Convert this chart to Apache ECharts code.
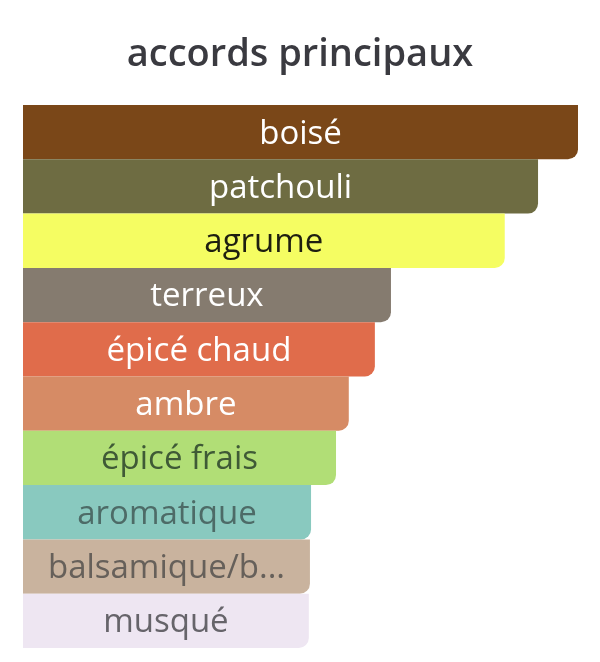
<!DOCTYPE html>
<html>
<head>
<meta charset="utf-8">
<script src="https://cdn.jsdelivr.net/npm/echarts@6/dist/echarts.min.js"></script>
<style>html,body{margin:0;padding:0;background:#fff}#c{width:600px;height:662px}</style>
</head>
<body>
<div id="c"></div>
<script>
const titleText = "accords principaux";
const categories = ["boisé","patchouli","agrume","terreux","épicé chaud","ambre","épicé frais","aromatique","balsamique/b...","musqué"];
const values = [100, 92.8, 86.8, 66.3, 63.4, 58.7, 56.4, 51.9, 51.7, 51.5];
const barColors = ["#7a4718","#6e6c42","#f5fd62","#857b6f","#e06c4b","#d68b65","#b1de76","#89c9bf","#c9b39e","#eee6f2"];
const labelColors = ["#ffffff","#ffffff","#1e1e10","#ffffff","#ffffff","#ffffff","#3f5a36","#4d6b67","#66605a","#66646a"];

const chart = echarts.init(document.getElementById('c'));
chart.setOption({
  animation: false,
  title: {
    text: titleText,
    left: 'center',
    top: 31,
    textStyle: { fontFamily: 'Open Sans', fontSize: 38, fontWeight: 600, color: '#3a3a40' }
  },
  grid: { left: 23, right: 22, top: 105, bottom: 14, containLabel: false },
  xAxis: { type: 'value', min: 0, max: 100, show: false },
  yAxis: { type: 'category', data: categories, inverse: true, show: false },
  series: [{
    type: 'bar',
    barCategoryGap: 0,
    barWidth: '100%',
    data: values.map((v, i) => ({
      value: v,
      itemStyle: { color: barColors[i], borderRadius: [0, 0, 10, 0] },
      label: { color: labelColors[i] }
    })),
    label: {
      show: true,
      position: 'inside',
      offset: [0, 2],
      formatter: p => categories[p.dataIndex],
      fontFamily: 'Open Sans',
      fontSize: 33
    }
  }]
});
</script>
</body>
</html>
